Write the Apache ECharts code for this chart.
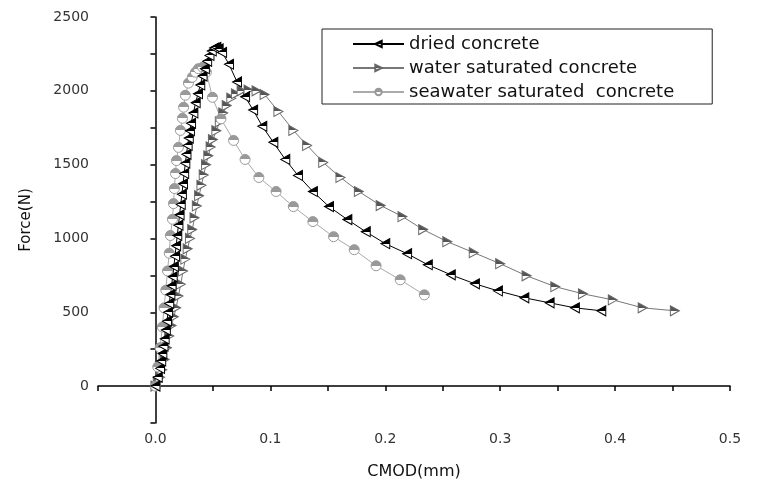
<!DOCTYPE html>
<html>
<head>
<meta charset="utf-8">
<script src="https://cdn.jsdelivr.net/npm/echarts@6/dist/echarts.min.js"></script>
<style>html,body{margin:0;padding:0;background:#fff}#c{width:758px;height:485px}</style>
</head>
<body>
<div id="c"></div>
<script>
// Dried concrete: CMOD (mm), Force (N)
const driedX = [0.000,0.002,0.004,0.005,0.006,0.007,0.008,0.009,0.010,0.011,0.012,0.013,0.014,0.015,0.016,0.017,0.018,0.019,0.020,0.021,0.022,0.023,0.024,0.025,0.026,0.027,0.028,0.029,0.030,0.031,0.033,0.035,0.037,0.039,0.041,0.043,0.045,0.047,0.049,0.051,0.053,0.055,0.058,0.064,0.071,0.078,0.085,0.093,0.1026,0.113,0.124,0.137,0.151,0.167,0.183,0.200,0.219,0.237,0.257,0.278,0.298,0.321,0.343,0.365,0.388];
const driedF = [0,60,120,170,220,270,320,380,440,500,560,620,680,740,810,880,950,1020,1090,1160,1230,1300,1370,1440,1510,1570,1630,1680,1730,1780,1850,1920,1980,2040,2100,2150,2200,2240,2270,2290,2295,2285,2260,2180,2060,1960,1870,1760,1651,1535,1427,1318,1216,1128,1046,965,897,822,754,693,645,598,564,530,510];
// Water saturated concrete
const waterX = [0.000,0.002,0.004,0.006,0.008,0.010,0.012,0.014,0.016,0.018,0.020,0.022,0.024,0.026,0.028,0.030,0.032,0.034,0.036,0.038,0.040,0.042,0.044,0.046,0.048,0.050,0.053,0.056,0.059,0.062,0.066,0.070,0.075,0.081,0.088,0.095,0.107,0.120,0.132,0.146,0.161,0.177,0.196,0.215,0.233,0.254,0.277,0.300,0.323,0.348,0.372,0.398,0.424,0.452];
const waterF = [0,30,60,110,180,260,340,410,470,530,610,690,780,860,930,1000,1060,1140,1220,1290,1360,1430,1500,1560,1620,1670,1730,1790,1850,1900,1950,1980,2000,2005,2000,1975,1860,1732,1630,1515,1413,1318,1223,1148,1060,978,904,829,747,673,625,584,530,510];
// Seawater saturated concrete
const seaX = [0.000,0.002,0.004,0.006,0.0075,0.009,0.0105,0.012,0.013,0.0148,0.0157,0.0165,0.0174,0.0183,0.020,0.0217,0.0235,0.0245,0.026,0.0287,0.032,0.0348,0.0374,0.041,0.0443,0.0496,0.057,0.068,0.078,0.090,0.105,0.120,0.137,0.155,0.173,0.192,0.213,0.234];
const seaF = [0,130,260,400,530,650,780,900,1020,1130,1236,1338,1440,1528,1617,1732,1814,1889,1970,2052,2092,2126,2150,2160,2126,1956,1810,1664,1535,1413,1318,1216,1114,1012,924,815,720,618];

const xTicksLabeled = ['0.0','0.1','0.2','0.3','0.4','0.5'];
const seriesNames = ['dried concrete','water saturated concrete','seawater saturated  concrete'];

function pairs(xs, ys){ return xs.map((x,i)=>[x, ys[i]]); }
function halfFill(c){
  return {type:'linear',x:0,y:0,x2:0,y2:1,colorStops:[
    {offset:0,color:c},{offset:0.5,color:c},{offset:0.5,color:'#fff'},{offset:1,color:'#fff'}]};
}
const FONT = 'DejaVu Sans';
const chart = echarts.init(document.getElementById('c'), null, {renderer:'canvas'});
chart.setOption({
  animation:false,
  backgroundColor:'#fff',
  grid:{left:98,right:28,top:17,bottom:62,containLabel:false},
  legend:{
    orient:'vertical', left:322, top:29,
    padding:[6,38,3,30], itemGap:6, itemWidth:51, itemHeight:8,
    borderColor:'#222', borderWidth:1,
    textStyle:{fontFamily:FONT,fontSize:18,color:'#111'},
    data:seriesNames
  },
  xAxis:{
    type:'value', min:-0.05, max:0.5, interval:0.05,
    name:'CMOD(mm)', nameLocation:'middle', nameGap:41,
    nameTextStyle:{fontFamily:FONT,fontSize:16,color:'#111'},
    axisLine:{show:true,lineStyle:{color:'#000',width:1.5}},
    axisTick:{show:true,length:5,lineStyle:{color:'#000',width:1.5}},
    splitLine:{show:false},
    axisLabel:{fontFamily:FONT,fontSize:14,color:'#333',margin:9,
      formatter:function(v){
        const t = Math.round(v*10);
        if (Math.abs(t - v*10) < 1e-6 && t >= 0) return xTicksLabeled[t];
        return '';
      }}
  },
  yAxis:{
    type:'value', min:-250, max:2500, interval:250,
    name:'Force(N)', nameLocation:'middle', nameGap:64,
    nameTextStyle:{fontFamily:FONT,fontSize:15,color:'#111'},
    axisLine:{show:true,lineStyle:{color:'#000',width:1.5}},
    axisTick:{show:true,length:5,lineStyle:{color:'#000',width:1.5}},
    splitLine:{show:false},
    axisLabel:{fontFamily:FONT,fontSize:14,color:'#333',margin:9,
      formatter:function(v){ return (v % 500 === 0) ? String(v) : ''; }}
  },
  series:[
    {name:seriesNames[1],type:'line',data:pairs(waterX,waterF),
     symbol:'path://M10,5L0,0L0,10Z',symbolSize:[9,10],showAllSymbol:true,
     itemStyle:{color:halfFill('#555'),borderColor:'#666',borderWidth:1},
     lineStyle:{color:'#777',width:1}},
    {name:seriesNames[2],type:'line',data:pairs(seaX,seaF),
     symbol:'circle',symbolSize:10,showAllSymbol:true,
     itemStyle:{color:halfFill('#999'),borderColor:'#999',borderWidth:1},
     lineStyle:{color:'#aaa',width:1}},
    {name:seriesNames[0],type:'line',data:pairs(driedX,driedF),
     symbol:'path://M0,5L10,0L10,10Z',symbolSize:[9,10],showAllSymbol:true,
     itemStyle:{color:halfFill('#000'),borderColor:'#000',borderWidth:1},
     lineStyle:{color:'#000',width:1}}
  ]
});
</script>
</body>
</html>
